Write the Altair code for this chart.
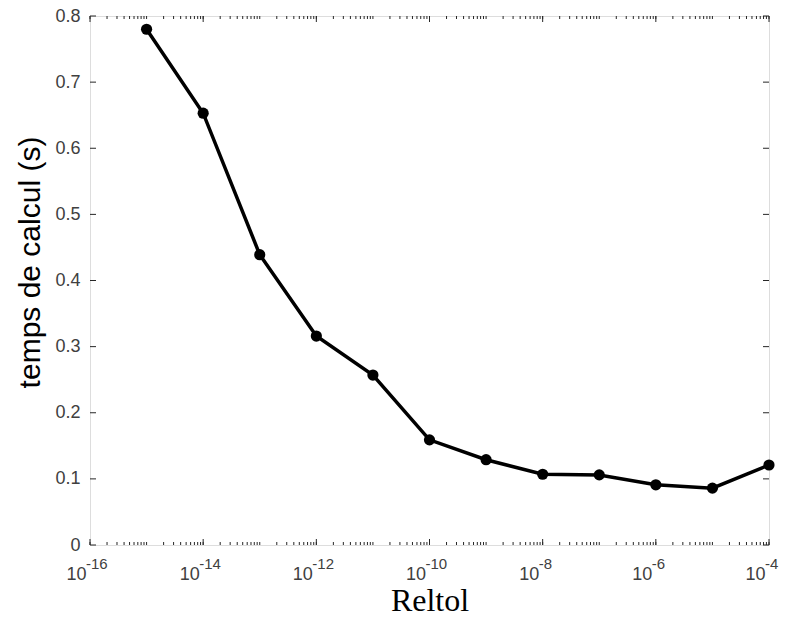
import altair as alt
import pandas as pd

# ---- data ----
reltol = [1e-15, 1e-14, 1e-13, 1e-12, 1e-11, 1e-10, 1e-9, 1e-8, 1e-7, 1e-6, 1e-5, 1e-4]
temps = [0.780, 0.653, 0.439, 0.316, 0.257, 0.159, 0.129, 0.107, 0.106, 0.091, 0.086, 0.121]

x_major = [1e-16, 1e-14, 1e-12, 1e-10, 1e-8, 1e-6, 1e-4]
x_exponents = ["-16", "-14", "-12", "-10", "-8", "-6", "-4"]
y_ticks = [0, 0.1, 0.2, 0.3, 0.4, 0.5, 0.6, 0.7, 0.8]

df = pd.DataFrame({"reltol": reltol, "temps": temps})
exp_df = pd.DataFrame({"reltol": x_major, "e": x_exponents})

W, H = 679, 529
AX = "#262626"
LAB = "#404040"

# minor tick positions of the log axis (1..9 x each decade)
x_minor = [m * 10.0 ** e for e in range(-16, -4) for m in range(1, 10)] + [1e-4]
xmaj_df = pd.DataFrame({"reltol": x_major})
xmin_df = pd.DataFrame({"reltol": x_minor})
yt_df = pd.DataFrame({"temps": y_ticks})

xscale = alt.Scale(type="log", domain=[1e-16, 1e-4], nice=False)
yscale = alt.Scale(domain=[0, 0.8], nice=False, zero=True)

x_axis = alt.Axis(
    orient="bottom", values=x_major, labelExpr="'10'", title="Reltol",
    titleFont="Liberation Serif", titleFontSize=32, titleFontWeight="normal",
    titleColor="black", titlePadding=2,
    labelFont="Liberation Sans", labelFontSize=18, labelColor=LAB,
    labelPadding=20, labelAlign="right", labelOffset=-4,
    labelFlush=False, labelOverlap=False,
    ticks=False, domain=False, grid=False)

y_axis = alt.Axis(
    orient="left", values=y_ticks, format=".1~f", title="temps de calcul (s)",
    titleFont="Liberation Sans", titleFontSize=30, titleFontWeight="normal",
    titleColor="black", titleX=-45, titleY=246, titleAlign="center",
    titleBaseline="bottom", titleAngle=270,
    labelFont="Liberation Sans", labelFontSize=18, labelColor=LAB,
    labelPadding=10, ticks=False, domain=False, grid=False)

X = alt.X("reltol:Q", scale=xscale, axis=x_axis)
Y = alt.Y("temps:Q", scale=yscale, axis=y_axis)

# main layer: line + markers
main = alt.Chart(df).mark_line(
    color="black", strokeWidth=3.5,
    point=alt.OverlayMarkDef(filled=True, color="black", size=125, opacity=1),
).encode(x=X, y=Y)

# exponents of the x tick labels (superscripts)
sup = alt.Chart(exp_df).mark_text(
    align="left", baseline="top", dx=-4, font="Liberation Sans",
    fontSize=15, color=LAB,
).encode(x=X, y=alt.value(H + 12), text="e:N")


def xticks(data, y0, y1):
    return alt.Chart(data).mark_rule(color=AX, strokeWidth=1).encode(
        x=X, y=alt.value(y0), y2=alt.value(y1))


def yticks(x0, x1):
    return alt.Chart(yt_df).mark_rule(color=AX, strokeWidth=1).encode(
        y=Y, x=alt.value(x0), x2=alt.value(x1))


tick_layers = [
    xticks(xmaj_df, H, H - 6), xticks(xmin_df, H, H - 3),   # bottom, inward
    xticks(xmaj_df, 0, 6), xticks(xmin_df, 0, 3),           # top, inward
    yticks(0, 6), yticks(W, W - 6),                         # left / right, inward
]

chart = alt.layer(main, *tick_layers, sup).properties(
    width=W, height=H,
    autosize=alt.AutoSizeParams(type="none"),
    padding={"left": 90, "top": 16, "right": 22, "bottom": 73},
).configure_view(
    stroke=AX, strokeWidth=1.2
).configure(background="white")

chart.save("out.html", embed_options={"renderer": "svg", "actions": False})
